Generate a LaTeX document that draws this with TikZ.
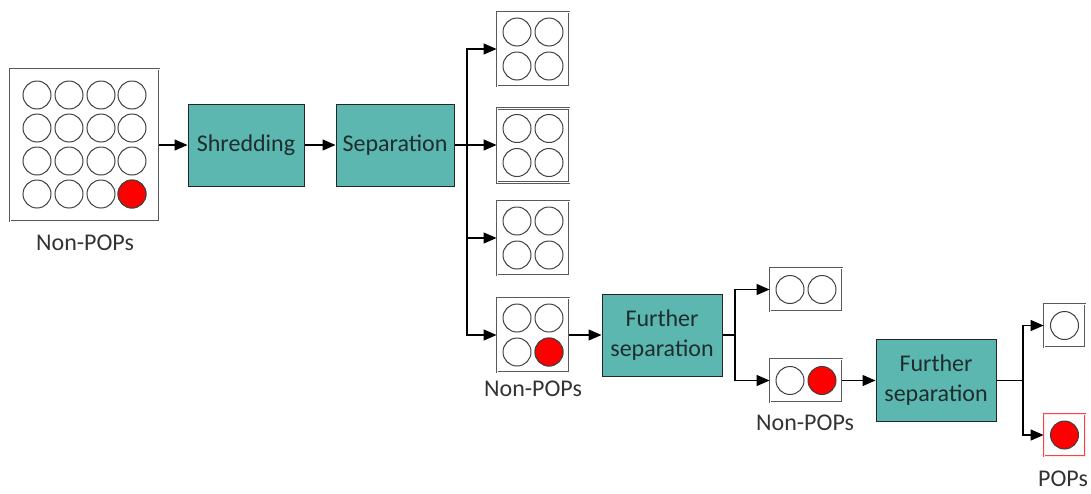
\documentclass[tikz,border=0pt]{standalone}
\usepackage{fontspec}
\setmainfont{Carlito}
\usetikzlibrary{arrows.meta}
\definecolor{tealbox}{RGB}{91,183,176}
\definecolor{txtdark}{RGB}{30,45,45}
\begin{document}
\begin{tikzpicture}[x=1pt,y=-1pt,
  proc/.style={draw=black!85, fill=tealbox, line width=1pt, minimum width=116pt, minimum height=82pt, align=center, font=\fontsize{24}{30}\selectfont, text=txtdark, inner sep=0pt},
  cont/.style={draw=black!65, double=white, double distance=0.8pt, line width=0.9pt, inner sep=0pt},
  popcont/.style={draw=red!75, double=red!10, double distance=0.8pt, line width=0.9pt, inner sep=0pt},
  ball/.style={circle, draw=black!75, line width=1pt, minimum size=28pt, inner sep=0pt, fill=white},
  pop/.style={ball, fill=red},
  lbl/.style={font=\fontsize{24}{28}\selectfont, text=black!80, inner sep=0pt},
  wire/.style={draw=black, line width=1.3pt},
  arr/.style={wire, -{Triangle[length=13pt,width=11pt]}}]
\useasboundingbox (0,0) rectangle (1091,493);

% big container
\node[cont, minimum width=149pt, minimum height=152pt] (big) at (84.5,145) {};
\foreach \i/\xx in {0/37,1/69,2/101,3/132}{
  \foreach \j/\yy in {0/95,1/128,2/161,3/194}{
    \node[ball] (c\i\j) at (\xx,\yy) {};
  }
}
\node[pop] (cpop) at (132,194) {};
\node[lbl] (l1) at (85,243) {Non-POPs};

% process boxes
\node[proc] (shred) at (246,145) {Shredding};
\node[proc, minimum width=118pt] (sep) at (395,145) {Separation};
\node[proc, minimum width=120pt] (fs1) at (662,335) {Further\\separation};
\node[proc, minimum width=120pt] (fs2) at (936,380.5) {Further\\separation};

% 2x2 containers
\foreach \n/\yy in {b1/49,b2/145.5,b3/238,b4/335}{
  \node[cont, minimum width=72pt, minimum height=74pt] (\n) at (533,\yy) {};
  \node[ball] (\n a) at (517,\yy-17) {};
  \node[ball] (\n b) at (549,\yy-17) {};
  \node[ball] (\n c) at (517,\yy+17) {};
  \node[ball] (\n d) at (549,\yy+17) {};
}
\node[pop] (b4pop) at (549,352) {};
\node[lbl] (l2) at (533,389) {Non-POPs};

% 1x2 containers
\node[cont, minimum width=72pt, minimum height=43pt] (m1) at (806,289.5) {};
\node[ball] (m1a) at (790,289.5) {};
\node[ball] (m1b) at (822,289.5) {};
\node[cont, minimum width=72pt, minimum height=43pt] (m2) at (806,380.5) {};
\node[ball] (m2a) at (790,380.5) {};
\node[pop] (m2b) at (822,380.5) {};
\node[lbl] (l3) at (805,423) {Non-POPs};

% single containers
\node[cont, minimum width=41pt, minimum height=43pt] (s1) at (1064.5,325.5) {};
\node[ball] (s1a) at (1064.5,325.5) {};
\node[popcont, minimum width=41pt, minimum height=42pt] (s2) at (1064.5,435) {};
\node[pop] (s2a) at (1064.5,435) {};
\node[lbl] (l4) at (1063,479) {POPs};

% junctions
\coordinate (j1) at (467,145);
\coordinate (j2) at (735,335);
\coordinate (j3) at (1023,380.5);

% connectors
\draw[arr] (big.east |- shred.west) -- (shred.west);
\draw[arr] (shred.east) -- (sep.west);
\draw[wire] (sep.east) -- (j1);
\draw[arr] (j1) |- (b1.west);
\draw[arr] (j1) -- (b2.west |- j1);
\draw[arr] (j1) |- (b3.west);
\draw[arr] (j1) |- (b4.west);
\draw[arr] (b4.east) -- (fs1.west |- b4.east);
\draw[wire] (fs1.east |- j2) -- (j2);
\draw[arr] (j2) |- (m1.west);
\draw[arr] (j2) |- (m2.west);
\draw[arr] (m2.east) -- (fs2.west |- m2.east);
\draw[wire] (fs2.east |- j3) -- (j3);
\draw[arr] (j3) |- (s1.west);
\draw[arr] (j3) |- (s2.west);
\end{tikzpicture}
\end{document}
